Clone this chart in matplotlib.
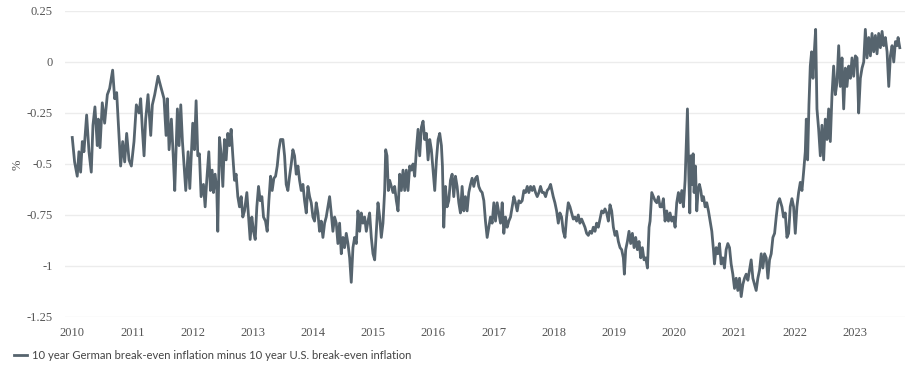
import matplotlib
matplotlib.use('Agg')
import matplotlib.pyplot as plt

plt.rcParams['font.family'] = 'serif'
plt.rcParams['font.serif'] = ['Liberation Serif', 'DejaVu Serif']

# decimal year and spread in percentage points
years = [
    2010.000, 2010.039, 2010.083, 2010.111, 2010.139, 2010.167, 2010.194, 2010.239, 2010.278, 2010.316,
    2010.344, 2010.377, 2010.416, 2010.433, 2010.461, 2010.499, 2010.538, 2010.583, 2010.621, 2010.671,
    2010.705, 2010.738, 2010.777, 2010.804, 2010.838, 2010.871, 2010.904, 2010.943, 2010.982, 2011.026,
    2011.065, 2011.109, 2011.137, 2011.165, 2011.193, 2011.220, 2011.259, 2011.304, 2011.331, 2011.370,
    2011.426, 2011.470, 2011.525, 2011.559, 2011.581, 2011.609, 2011.647, 2011.681, 2011.703, 2011.747,
    2011.775, 2011.803, 2011.831, 2011.858, 2011.886, 2011.925, 2011.953,
    2012.002, 2012.030, 2012.058, 2012.086, 2012.113, 2012.141, 2012.180, 2012.208, 2012.235, 2012.269,
    2012.296, 2012.324, 2012.346, 2012.374, 2012.402, 2012.418, 2012.446, 2012.474, 2012.502, 2012.529,
    2012.557, 2012.585, 2012.613, 2012.640, 2012.668, 2012.696, 2012.723, 2012.751, 2012.779, 2012.807,
    2012.834, 2012.862, 2012.901, 2012.929, 2012.956, 2012.984, 2013.012, 2013.040, 2013.067, 2013.095,
    2013.123, 2013.151, 2013.178, 2013.211, 2013.239, 2013.267, 2013.295, 2013.322, 2013.350, 2013.378,
    2013.406, 2013.433, 2013.461, 2013.500, 2013.528, 2013.555, 2013.583, 2013.611, 2013.639, 2013.666,
    2013.694, 2013.722, 2013.750, 2013.777, 2013.805, 2013.833, 2013.860, 2013.888, 2013.916, 2013.944,
    2013.971, 2013.999,
    2014.026, 2014.054, 2014.082, 2014.109, 2014.137, 2014.165, 2014.193, 2014.220, 2014.248, 2014.276,
    2014.303, 2014.331, 2014.359, 2014.387, 2014.414, 2014.442, 2014.470, 2014.498, 2014.525, 2014.553,
    2014.581, 2014.609, 2014.636, 2014.664, 2014.692, 2014.720, 2014.747, 2014.775, 2014.803, 2014.830,
    2014.858, 2014.886, 2014.914, 2014.941, 2014.969, 2014.997, 2015.025, 2015.052, 2015.080, 2015.108,
    2015.135, 2015.163, 2015.191, 2015.208, 2015.230, 2015.252, 2015.274, 2015.302, 2015.330, 2015.357,
    2015.385, 2015.413, 2015.441, 2015.468, 2015.496, 2015.524, 2015.551, 2015.579, 2015.607, 2015.635,
    2015.662, 2015.690, 2015.718, 2015.746, 2015.773, 2015.801, 2015.829, 2015.856, 2015.884, 2015.912,
    2015.940, 2015.967,
    2015.995, 2016.023, 2016.051, 2016.079, 2016.106, 2016.134, 2016.151, 2016.173, 2016.201, 2016.228,
    2016.256, 2016.284, 2016.312, 2016.339, 2016.367, 2016.395, 2016.423, 2016.450, 2016.478, 2016.506,
    2016.533, 2016.561, 2016.589, 2016.617, 2016.644, 2016.672, 2016.700, 2016.728, 2016.755, 2016.783,
    2016.811, 2016.839, 2016.866, 2016.894, 2016.922, 2016.949, 2016.977, 2017.005, 2017.033, 2017.060,
    2017.088, 2017.116, 2017.144, 2017.171, 2017.199, 2017.227, 2017.254, 2017.282, 2017.310, 2017.338,
    2017.365, 2017.393, 2017.421, 2017.449, 2017.476, 2017.504, 2017.532, 2017.560, 2017.587, 2017.615,
    2017.643, 2017.670, 2017.698, 2017.726, 2017.754, 2017.781, 2017.809, 2017.837, 2017.865, 2017.892,
    2017.920, 2017.948,
    2017.992, 2018.020, 2018.048, 2018.076, 2018.103, 2018.131, 2018.159, 2018.187, 2018.214, 2018.242,
    2018.270, 2018.298, 2018.325, 2018.353, 2018.381, 2018.408, 2018.436, 2018.464, 2018.492, 2018.519,
    2018.547, 2018.575, 2018.603, 2018.630, 2018.658, 2018.686, 2018.713, 2018.741, 2018.769, 2018.797,
    2018.824, 2018.852, 2018.880, 2018.908, 2018.935, 2018.963, 2018.991, 2019.019, 2019.046, 2019.074,
    2019.102, 2019.129, 2019.157, 2019.174, 2019.196, 2019.224, 2019.251, 2019.279, 2019.307, 2019.335,
    2019.362, 2019.390, 2019.418, 2019.446, 2019.473, 2019.501, 2019.529, 2019.557, 2019.584, 2019.601,
    2019.629, 2019.656, 2019.684, 2019.712, 2019.740, 2019.767,
    2019.795, 2019.822, 2019.850, 2019.878, 2019.906, 2019.933, 2019.961, 2019.989, 2020.017, 2020.044,
    2020.072, 2020.100, 2020.128, 2020.155, 2020.183, 2020.200, 2020.222, 2020.244, 2020.261, 2020.277,
    2020.299, 2020.316, 2020.333, 2020.355, 2020.377, 2020.399, 2020.421, 2020.444, 2020.466, 2020.488,
    2020.516, 2020.543, 2020.571, 2020.599, 2020.627, 2020.654, 2020.671, 2020.699, 2020.727, 2020.754,
    2020.782, 2020.810, 2020.837, 2020.865, 2020.893, 2020.921, 2020.948, 2020.976, 2021.004, 2021.032,
    2021.059, 2021.087, 2021.115, 2021.143, 2021.170, 2021.198, 2021.226, 2021.253, 2021.281, 2021.309,
    2021.337, 2021.364, 2021.392, 2021.420, 2021.448, 2021.475, 2021.503, 2021.531, 2021.559, 2021.586,
    2021.614, 2021.642, 2021.670, 2021.697, 2021.725, 2021.753,
    2021.792, 2021.819, 2021.847, 2021.875, 2021.903, 2021.930, 2021.958, 2021.986, 2022.014, 2022.041,
    2022.069, 2022.097, 2022.125, 2022.152, 2022.180, 2022.197, 2022.219, 2022.241, 2022.263, 2022.285,
    2022.308, 2022.330, 2022.352, 2022.374, 2022.402, 2022.430, 2022.457, 2022.485, 2022.513, 2022.541,
    2022.568, 2022.596, 2022.624, 2022.651, 2022.679, 2022.707, 2022.735, 2022.762, 2022.790, 2022.818,
    2022.846, 2022.873, 2022.901, 2022.929, 2022.956, 2022.984, 2023.012, 2023.040, 2023.067, 2023.095,
    2023.123, 2023.151, 2023.178, 2023.206, 2023.234, 2023.262, 2023.289, 2023.317, 2023.345, 2023.372,
    2023.400, 2023.428, 2023.456, 2023.483, 2023.511, 2023.539, 2023.567, 2023.594, 2023.622, 2023.650,
    2023.678, 2023.705, 2023.722, 2023.750,
]

spread = [
    -0.37, -0.49, -0.56, -0.44, -0.54, -0.39, -0.44, -0.26, -0.44, -0.54,
    -0.31, -0.22, -0.41, -0.28, -0.42, -0.20, -0.30, -0.16, -0.13, -0.04,
    -0.18, -0.15, -0.36, -0.51, -0.39, -0.49, -0.35, -0.48, -0.51, -0.39,
    -0.21, -0.25, -0.18, -0.33, -0.46, -0.28, -0.16, -0.36, -0.21, -0.16,
    -0.07, -0.12, -0.18, -0.36, -0.18, -0.43, -0.28, -0.48, -0.63, -0.23,
    -0.41, -0.21, -0.39, -0.51, -0.63, -0.44, -0.62,
    -0.30, -0.43, -0.19, -0.46, -0.45, -0.66, -0.60, -0.71, -0.58, -0.44,
    -0.63, -0.53, -0.64, -0.55, -0.63, -0.83, -0.37, -0.45, -0.61, -0.38,
    -0.48, -0.35, -0.41, -0.33, -0.46, -0.58, -0.55, -0.66, -0.71, -0.66,
    -0.76, -0.73, -0.64, -0.76, -0.87, -0.76, -0.83, -0.87, -0.71, -0.61,
    -0.68, -0.66, -0.76, -0.78, -0.83, -0.68, -0.56, -0.63, -0.57, -0.56,
    -0.51, -0.43, -0.38, -0.38, -0.46, -0.60, -0.63, -0.56, -0.50, -0.43,
    -0.46, -0.55, -0.51, -0.58, -0.63, -0.60, -0.68, -0.74, -0.61, -0.66,
    -0.69, -0.76,
    -0.78, -0.69, -0.74, -0.83, -0.78, -0.86, -0.79, -0.76, -0.71, -0.66,
    -0.74, -0.83, -0.76, -0.79, -0.89, -0.79, -0.94, -0.86, -0.91, -0.84,
    -0.89, -0.96, -1.08, -0.91, -0.86, -0.89, -0.73, -0.83, -0.74, -0.79,
    -0.76, -0.83, -0.78, -0.74, -0.86, -0.94, -0.97, -0.83, -0.69, -0.76,
    -0.86, -0.79, -0.63, -0.43, -0.46, -0.63, -0.58, -0.61, -0.64, -0.61,
    -0.68, -0.73, -0.55, -0.63, -0.53, -0.63, -0.53, -0.63, -0.51, -0.53,
    -0.50, -0.56, -0.43, -0.33, -0.46, -0.32, -0.29, -0.38, -0.35, -0.48,
    -0.38, -0.43,
    -0.53, -0.63, -0.48, -0.38, -0.35, -0.41, -0.51, -0.81, -0.61, -0.71,
    -0.68, -0.58, -0.55, -0.66, -0.56, -0.61, -0.69, -0.74, -0.61, -0.73,
    -0.66, -0.73, -0.64, -0.60, -0.57, -0.61, -0.57, -0.56, -0.61, -0.63,
    -0.64, -0.68, -0.78, -0.86, -0.81, -0.76, -0.79, -0.69, -0.78, -0.69,
    -0.74, -0.79, -0.69, -0.84, -0.76, -0.81, -0.78, -0.76, -0.71, -0.66,
    -0.69, -0.73, -0.68, -0.69, -0.68, -0.63, -0.64, -0.61, -0.64, -0.61,
    -0.63, -0.61, -0.64, -0.66, -0.64, -0.61, -0.64, -0.64, -0.66, -0.63,
    -0.62, -0.60,
    -0.66, -0.69, -0.73, -0.79, -0.74, -0.76, -0.83, -0.86, -0.76, -0.69,
    -0.71, -0.74, -0.77, -0.76, -0.78, -0.75, -0.79, -0.77, -0.79, -0.81,
    -0.84, -0.85, -0.83, -0.84, -0.81, -0.83, -0.79, -0.81, -0.77, -0.73,
    -0.74, -0.72, -0.74, -0.78, -0.70, -0.73, -0.81, -0.85, -0.83, -0.88,
    -0.91, -0.92, -0.96, -1.04, -0.92, -0.88, -0.83, -0.89, -0.84, -0.91,
    -0.86, -0.92, -0.88, -0.96, -0.91, -0.97, -0.96, -1.01, -0.81, -0.78,
    -0.64, -0.66, -0.68, -0.69, -0.66, -0.71,
    -0.71, -0.67, -0.78, -0.73, -0.78, -0.74, -0.78, -0.76, -0.81, -0.69,
    -0.64, -0.69, -0.63, -0.71, -0.58, -0.43, -0.23, -0.55, -0.74, -0.46,
    -0.60, -0.45, -0.64, -0.51, -0.73, -0.63, -0.60, -0.63, -0.68, -0.66,
    -0.71, -0.69, -0.73, -0.78, -0.83, -0.92, -0.99, -0.91, -0.94, -0.89,
    -0.99, -0.96, -1.01, -0.92, -0.89, -0.91, -0.99, -1.04, -1.11, -1.06,
    -1.12, -1.06, -1.15, -1.09, -1.06, -1.04, -1.07, -1.02, -0.97, -1.06,
    -1.09, -1.12, -1.06, -1.02, -0.94, -1.01, -0.94, -0.96, -1.06, -0.97,
    -0.94, -0.86, -0.84, -0.76, -0.69, -0.67,
    -0.71, -0.76, -0.74, -0.86, -0.84, -0.71, -0.67, -0.71, -0.84, -0.71,
    -0.64, -0.59, -0.63, -0.54, -0.44, -0.28, -0.48, -0.21, -0.02, 0.05,
    -0.08, 0.05, 0.16, -0.23, -0.33, -0.46, -0.31, -0.48, -0.28, -0.38,
    -0.23, -0.39, -0.16, -0.02, -0.16, -0.10, 0.08, -0.12, 0.02, -0.23,
    -0.03, -0.12, -0.02, -0.08, 0.02, -0.07, 0.03, 0.02, -0.25, -0.08,
    -0.03, 0.00, 0.16, 0.02, 0.12, 0.03, 0.14, 0.05, 0.13, 0.04,
    0.14, 0.07, 0.15, 0.08, 0.12, 0.05, -0.12, 0.03, 0.08, 0.00,
    0.10, 0.08, 0.12, 0.07,
]

year_ticks = list(range(2010, 2024))
y_ticks = [0.25, 0, -0.25, -0.5, -0.75, -1, -1.25]
y_labels = ['0.25', '0', '-0.25', '-0.5', '-0.75', '-1', '-1.25']
series_name = '10 year German break-even inflation minus 10 year U.S. break-even inflation'

line_color = '#56646e'
tick_color = '#555555'

fig = plt.figure(figsize=(9.07, 3.79), dpi=100)
ax = fig.add_axes([0.0717, 0.1636, 0.9263, 0.8074])

ax.plot(years, spread, color=line_color, lw=2.0, solid_joinstyle='round', label=series_name)

ax.set_xlim(2009.88, 2023.84)
ax.set_ylim(-1.25, 0.25)
ax.set_yticks(y_ticks, y_labels)
ax.set_xticks(year_ticks, [str(y) for y in year_ticks])

ax.tick_params(axis='both', length=0, labelsize=9, labelcolor=tick_color)
ax.tick_params(axis='y', pad=9)
ax.tick_params(axis='x', pad=7)

ax.grid(axis='y', color='#ececec', lw=1)
ax.set_axisbelow(True)
for s in ax.spines.values():
    s.set_visible(False)

fig.text(0.019, 0.565, '%', rotation=90, ha='center', va='center',
         fontsize=9, color=tick_color)

fig.legend(loc='center left', bbox_to_anchor=(0.015, 0.063), frameon=False,
           handlelength=1.2, handletextpad=0.4, borderpad=0, borderaxespad=0,
           prop={'family': 'Lato', 'size': 8.1}, labelcolor='#444444')

fig.savefig('out.png', dpi=100)
